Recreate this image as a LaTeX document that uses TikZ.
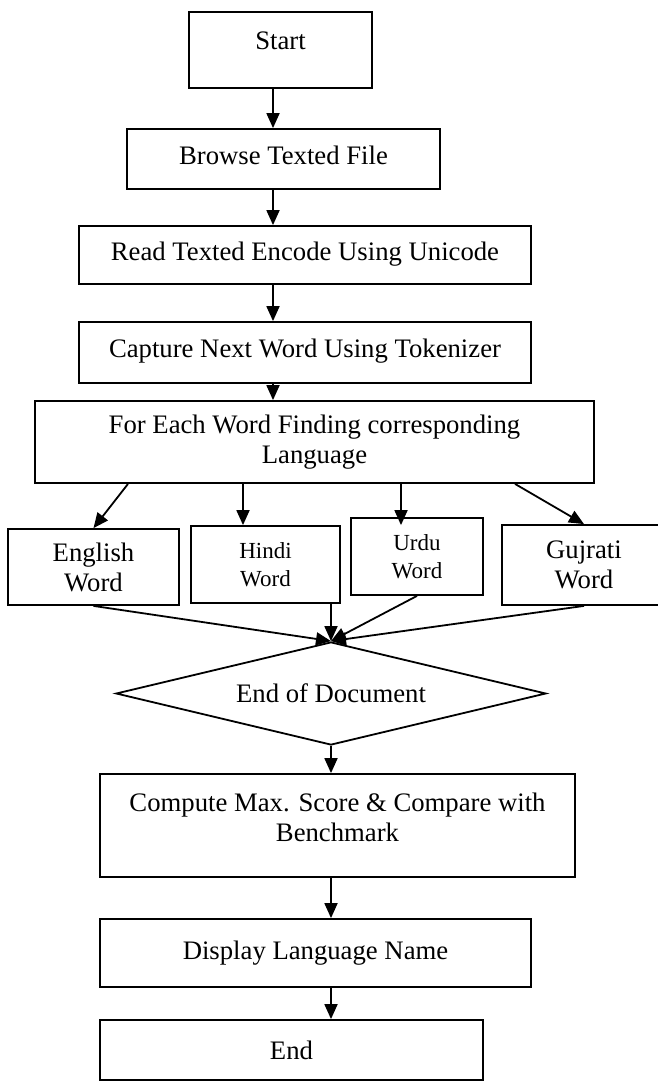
\documentclass[tikz,border=0pt]{standalone}
\usepackage{fontspec}
\setmainfont{Liberation Serif}
\usetikzlibrary{arrows.meta,shapes.geometric}

\begin{document}
\begin{tikzpicture}[x=1pt,y=-1pt,
    box/.style={draw,line width=1.8pt,align=center,inner sep=0pt,
      font=\fontsize{26.7}{30}\selectfont},
    smallbox/.style={box,font=\fontsize{23}{28}\selectfont},
    flow/.style={->,line width=1.8pt,>={Triangle[length=15pt,width=13pt]}}]
                \useasboundingbox (0,0) rectangle (658,1081);
                \coordinate (ax) at (273,0);
                \node[box,minimum width=183,minimum height=76,text height=19pt,text depth=21pt] (start) at (280.5,50) {Start};
                \node[box,minimum width=313,minimum height=60,text depth=8pt] (browse) at (283.5,159) {Browse Texted File};
                \node[box,minimum width=452,minimum height=58,text depth=8pt] (read) at (305,255) {Read Texted Encode Using Unicode};
                \node[box,minimum width=452,minimum height=61,text depth=8pt] (capture) at (305,352.5) {Capture Next Word Using Tokenizer};
                \node[box,minimum width=559,minimum height=82] (each) at (314.5,442) {For Each Word Finding corresponding\\Language};
                \node[box,minimum width=171,minimum height=76] (english) at (93.5,567) {English\\Word};
                \node[smallbox,minimum width=149,minimum height=77] (hindi) at (265.5,564.5) {Hindi\\Word};
                \node[smallbox,minimum width=132,minimum height=77] (urdu) at (417,556.5) {Urdu\\Word};
                \node[box,minimum width=164,minimum height=80] (gujrati) at (584,565) {Gujrati\\Word};
                \node[box,diamond,shape aspect=4.17,minimum width=430,minimum height=103] (doc) at (331,693.5) {End of Document};
                \node[box,minimum width=475,minimum height=103,text depth=17pt] (compute) at (337.5,825.5) {Compute Max. Score \& Compare with\\Benchmark};
                \node[box,minimum width=431,minimum height=68] (display) at (315.5,953) {Display Language Name};
                \node[box,minimum width=383,minimum height=60] (end) at (291.5,1050) {End};
                \draw[flow] (start.south -| ax) -- (browse.north -| ax);
                \draw[flow] (browse.south -| ax) -- (read.north -| ax);
                \draw[flow] (read.south -| ax) -- (capture.north -| ax);
                \draw[flow] (capture.south -| ax) -- (each.north -| ax);
                \draw[flow] (each.south -| 128,0) -- (english.north);
                \draw[flow] (each.south -| 243,0) -- (hindi.north -| 243,0);
                \draw[flow,shorten >=-8pt] (each.south -| 401,0) -- (urdu.north -| 401,0);
                \draw[flow] (each.south -| 515,0) -- (gujrati.north);
                \draw[flow] (english.south) -- (doc.north);
                \draw[flow] (hindi.south -| doc.north) -- (doc.north);
                \draw[flow] (urdu.south) -- (doc.north);
                \draw[flow] (gujrati.south) -- (doc.north);
                \draw[flow] (doc.south) -- (compute.north -| doc.south);
                \draw[flow] (compute.south -| doc.south) -- (display.north -| doc.south);
                \draw[flow] (display.south -| doc.south) -- (end.north -| doc.south);
            \end{tikzpicture}
\end{document}
